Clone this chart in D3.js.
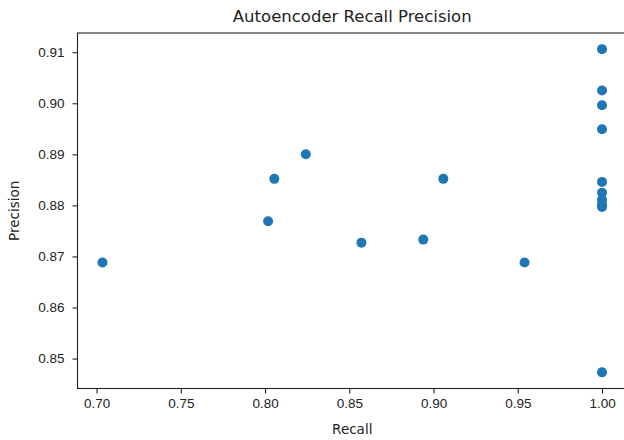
<!DOCTYPE html>
<html>
<head>
<meta charset="utf-8">
<script src="https://cdn.jsdelivr.net/npm/d3@7"></script>
<style>
  body { margin: 0; background: #fff; }
  svg { display: block; font-family: "DejaVu Sans", sans-serif; }
  .axis text { font-size: 13.5px; fill: #222; }
  .axis path, .axis line { stroke: #222; stroke-width: 1.1; }
</style>
</head>
<body>
<div id="chart"></div>
<script>
// recall / precision pairs
var recall = [0.7035, 0.8018, 0.8055, 0.8242, 0.8572, 0.8939, 0.9058, 0.954,
              1.0, 1.0, 1.0, 1.0, 1.0, 1.0, 1.0, 1.0, 1.0, 1.0];
var precision = [0.8688, 0.8769, 0.8852, 0.8900, 0.8727, 0.8733, 0.8852, 0.8688,
                 0.9106, 0.9025, 0.8996, 0.8949, 0.8846, 0.8825, 0.8811, 0.8802, 0.8797, 0.8473];
var xTicks = [0.70, 0.75, 0.80, 0.85, 0.90, 0.95, 1.00];
var yTicks = [0.85, 0.86, 0.87, 0.88, 0.89, 0.90, 0.91];

var width = 624, height = 440,
    margin = {top: 33, left: 77.5, bottom: 388.5, right: 627};

var data = recall.map(function(r, i){ return {r: r, p: precision[i]}; });

// matplotlib style 5% margins around the data
var xExt = d3.extent(recall), yExt = d3.extent(precision);
var xPad = (xExt[1] - xExt[0]) * 0.05, yPad = (yExt[1] - yExt[0]) * 0.05;

var x = d3.scaleLinear()
      .domain([xExt[0] - xPad, xExt[1] + xPad])
      .range([margin.left, margin.right]);
var y = d3.scaleLinear()
      .domain([yExt[0] - yPad, yExt[1] + yPad])
      .range([margin.bottom, margin.top]);

var svg = d3.select('#chart').append('svg')
            .attr('width', width)
            .attr('height', height);

// frame
svg.append('rect')
  .attr('x', margin.left)
  .attr('y', margin.top)
  .attr('width', margin.right - margin.left)
  .attr('height', margin.bottom - margin.top)
  .attr('fill', 'none')
  .attr('stroke', '#222')
  .attr('stroke-width', 1.1);

var xAxis = d3.axisBottom(x).tickValues(xTicks).tickFormat(d3.format('.2f'))
              .tickSizeInner(5).tickSizeOuter(0).tickPadding(5);
var yAxis = d3.axisLeft(y).tickValues(yTicks).tickFormat(d3.format('.2f'))
              .tickSizeInner(5).tickSizeOuter(0).tickPadding(8);

svg.append('g')
  .attr('class', 'axis')
  .attr('transform', 'translate(0,' + margin.bottom + ')')
  .call(xAxis)
  .select('.domain').remove();

svg.append('g')
  .attr('class', 'axis')
  .attr('transform', 'translate(' + margin.left + ',0)')
  .call(yAxis)
  .select('.domain').remove();

// points
svg.selectAll('.dot')
  .data(data)
  .enter().append('circle')
  .attr('class', 'dot')
  .attr('cx', function(d){ return x(d.r); })
  .attr('cy', function(d){ return y(d.p); })
  .attr('r', 5)
  .attr('fill', '#1f77b4');

// labels
svg.append('text')
  .attr('x', (margin.left + margin.right) / 2)
  .attr('y', 22)
  .attr('text-anchor', 'middle')
  .attr('font-size', 16.5)
  .attr('fill', '#222')
  .text('Autoencoder Recall Precision');

svg.append('text')
  .attr('x', (margin.left + margin.right) / 2)
  .attr('y', 434)
  .attr('text-anchor', 'middle')
  .attr('font-size', 13.5)
  .attr('fill', '#222')
  .text('Recall');

svg.append('text')
  .attr('transform', 'translate(19,' + (margin.top + margin.bottom) / 2 + ') rotate(-90)')
  .attr('text-anchor', 'middle')
  .attr('font-size', 13.5)
  .attr('fill', '#222')
  .text('Precision');
</script>
</body>
</html>
